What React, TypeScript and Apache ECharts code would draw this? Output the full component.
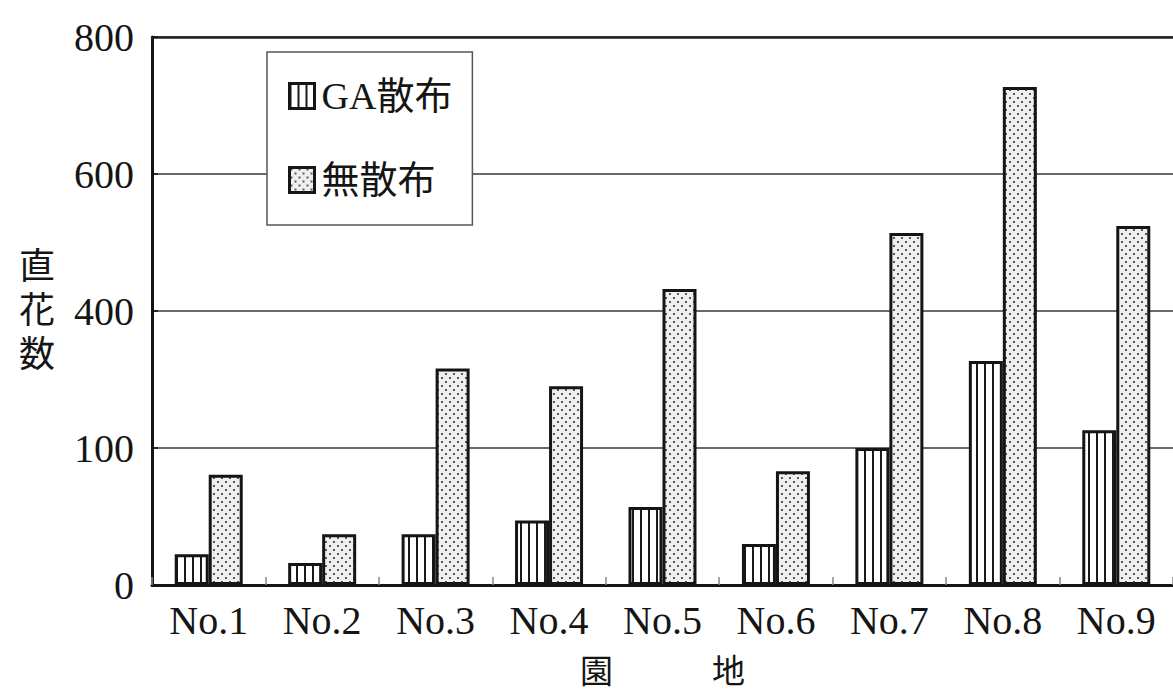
import React, { useEffect, useRef } from "react";
import * as echarts from "echarts";

// 園地ごとの直花数
const categories = ["No.1", "No.2", "No.3", "No.4", "No.5", "No.6", "No.7", "No.8", "No.9"];
const gaValues = [45, 32, 74, 94, 114, 60, 200, 327, 226];
const noSprayValues = [161, 74, 316, 290, 432, 166, 514, 727, 524];
const seriesNames = ["GA散布", "無散布"];
// tick labels as printed on the value axis (one per 200 step)
const yTickLabels = ["0", "100", "400", "600", "800"];

const FONT = '"Liberation Serif", "DejaVu Serif", "Noto Sans CJK JP", serif';
const INK = "#151515";

function stripeTile(): HTMLCanvasElement {
  const c = document.createElement("canvas");
  c.width = 8;
  c.height = 4;
  const g = c.getContext("2d")!;
  g.fillStyle = "#ffffff";
  g.fillRect(0, 0, 8, 4);
  g.fillStyle = "#1a1a1a";
  g.fillRect(0, 0, 2, 4);
  return c;
}

function dotTile(): HTMLCanvasElement {
  const c = document.createElement("canvas");
  c.width = 8;
  c.height = 8;
  const g = c.getContext("2d")!;
  g.fillStyle = "#efefef";
  g.fillRect(0, 0, 8, 8);
  g.fillStyle = "#5a5a5a";
  g.fillRect(1, 1, 2, 2);
  g.fillRect(5, 5, 2, 2);
  return c;
}

export default function App() {
  const ref = useRef<HTMLDivElement>(null);

  useEffect(() => {
    if (!ref.current) return;
    const chart = echarts.init(ref.current, undefined, { renderer: "svg" });

    const stripes = { image: stripeTile(), repeat: "repeat", imageWidth: 8, imageHeight: 4 };
    const dots = { image: dotTile(), repeat: "repeat", imageWidth: 8, imageHeight: 8 };
    const barBorder = { borderColor: INK, borderWidth: 3 };

    chart.setOption({
      animation: false,
      backgroundColor: "#ffffff",
      textStyle: { fontFamily: FONT, color: INK },
      grid: { left: 152, top: 37, width: 1030, height: 548, containLabel: false },
      legend: {
        orient: "vertical",
        left: 267,
        top: 52,
        padding: [24, 20, 25, 21],
        itemWidth: 25,
        itemHeight: 25,
        itemGap: 44,
        icon: "rect",
        backgroundColor: "#ffffff",
        borderColor: "#555555",
        borderWidth: 1.5,
        borderRadius: 0,
        textStyle: { fontFamily: FONT, fontSize: 38, lineHeight: 40, color: INK, padding: [0, 0, 0, 2] },
        data: [
          { name: seriesNames[0], itemStyle: { color: stripes, ...barBorder } },
          { name: seriesNames[1], itemStyle: { color: dots, ...barBorder } },
        ],
      },
      xAxis: [
        {
          type: "category",
          data: categories,
          position: "bottom",
          name: "園　　　地",
          nameLocation: "middle",
          nameGap: 70,
          nameTextStyle: { fontFamily: FONT, fontSize: 33, color: INK },
          axisLine: { show: true, lineStyle: { color: INK, width: 3 } },
          axisTick: { show: true, inside: true, length: 8, lineStyle: { color: "#888888", width: 1.5 } },
          axisLabel: { fontFamily: FONT, fontSize: 40, color: INK, margin: 15 },
          splitLine: { show: false },
        },
        {
          type: "category",
          data: categories,
          position: "top",
          axisLine: { show: true, lineStyle: { color: "#222222", width: 2.5 } },
          axisTick: { show: false },
          axisLabel: { show: false },
          splitLine: { show: false },
        },
      ],
      yAxis: {
        type: "value",
        min: 0,
        max: 800,
        interval: 200,
        name: "直\n花\n数",
        nameLocation: "middle",
        nameRotate: 0,
        nameGap: 97,
        nameTextStyle: { fontFamily: FONT, fontSize: 36, lineHeight: 44, color: INK, padding: [0, 0, 6, 0] },
        axisLine: { show: true, lineStyle: { color: INK, width: 3 } },
        axisTick: { show: true, inside: true, length: 6, lineStyle: { color: INK, width: 1.5 } },
        axisLabel: {
          fontFamily: FONT,
          fontSize: 40,
          color: INK,
          margin: 18,
          formatter: (v: number) => yTickLabels[Math.round(v / 200)] ?? String(v),
        },
        splitLine: { show: true, lineStyle: { color: "#6a6a6a", width: 1.8 } },
      },
      series: [
        {
          name: seriesNames[0],
          type: "bar",
          data: gaValues,
          barWidth: 34,
          barGap: "0%",
          itemStyle: { color: stripes, ...barBorder },
        },
        {
          name: seriesNames[1],
          type: "bar",
          data: noSprayValues,
          barWidth: 34,
          barGap: "0%",
          itemStyle: { color: dots, ...barBorder },
        },
      ],
    });

    return () => chart.dispose();
  }, []);

  return (
    <div
      ref={ref}
      style={{ position: "absolute", left: 0, top: 0, width: 1173, height: 693, background: "#fff" }}
    />
  );
}
